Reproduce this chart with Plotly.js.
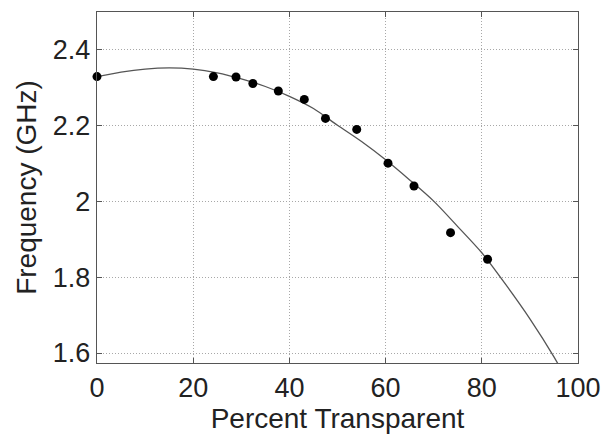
<!DOCTYPE html>
<html>
<head>
<meta charset="utf-8">
<script src="https://cdn.plot.ly/plotly-3.0.1.min.js"></script>
<style>html,body{margin:0;padding:0;background:#fff;}#chart{width:611px;height:434px;}</style>
</head>
<body>
<div id="chart"></div>
<script>
// Measured data points
const measX = [0, 24.2, 28.9, 32.4, 37.7, 43.1, 47.5, 54.0, 60.5, 65.9, 73.5, 81.2];
const measY = [2.328, 2.328, 2.327, 2.310, 2.290, 2.268, 2.218, 2.189, 2.100, 2.040, 1.917, 1.847];

// Fitted curve
const fitX = [0, 5, 10, 15, 20, 25, 30, 35, 40, 45, 50, 55, 60, 65, 70, 75, 80, 85, 90, 95, 96.5];
const fitY = [2.328, 2.340, 2.348, 2.351, 2.348, 2.338, 2.322, 2.302, 2.276, 2.244, 2.200, 2.157, 2.109, 2.056, 2.000, 1.933, 1.864, 1.780, 1.690, 1.590, 1.556];

const xTicks = [0, 20, 40, 60, 80, 100];
const yTicks = [1.6, 1.8, 2, 2.2, 2.4];
const yTickText = ['1.6', '1.8', '2', '2.2', '2.4'];

const font = 'Liberation Sans, Arial, sans-serif';

const traces = [
  {
    x: fitX, y: fitY, type: 'scatter', mode: 'lines',
    line: {color: '#555555', width: 1.3, shape: 'spline', smoothing: 0.8},
    hoverinfo: 'skip', showlegend: false
  },
  {
    x: measX, y: measY, type: 'scatter', mode: 'markers',
    marker: {color: '#000000', size: 9, line: {width: 0}},
    cliponaxis: false, showlegend: false
  }
];

const axisCommon = {
  showline: true, linecolor: '#555555', linewidth: 1.3, mirror: 'ticks',
  ticks: 'inside', ticklen: 5, tickcolor: '#555555', tickwidth: 1,
  showgrid: true, gridcolor: '#a8a8a8', griddash: '1px,2px', gridwidth: 1,
  zeroline: false,
  tickfont: {family: font, size: 27, color: '#222222'}
};

const layout = {
  width: 611, height: 434,
  margin: {l: 97, r: 33, t: 12, b: 71, pad: 0},
  paper_bgcolor: '#ffffff', plot_bgcolor: '#ffffff',
  showlegend: false,
  xaxis: Object.assign({}, axisCommon, {
    range: [0, 100], tickvals: xTicks, ticktext: xTicks.map(String),
    title: {text: 'Percent Transparent', font: {family: font, size: 28, color: '#222222'}, standoff: 1}
  }),
  yaxis: Object.assign({}, axisCommon, {
    range: [1.5737, 2.4982], tickvals: yTicks, ticktext: yTickText,
    title: {text: 'Frequency (GHz)', font: {family: font, size: 28, color: '#222222'}, standoff: 8}
  })
};

Plotly.newPlot('chart', traces, layout, {staticPlot: true, displayModeBar: false});
</script>
</body>
</html>
